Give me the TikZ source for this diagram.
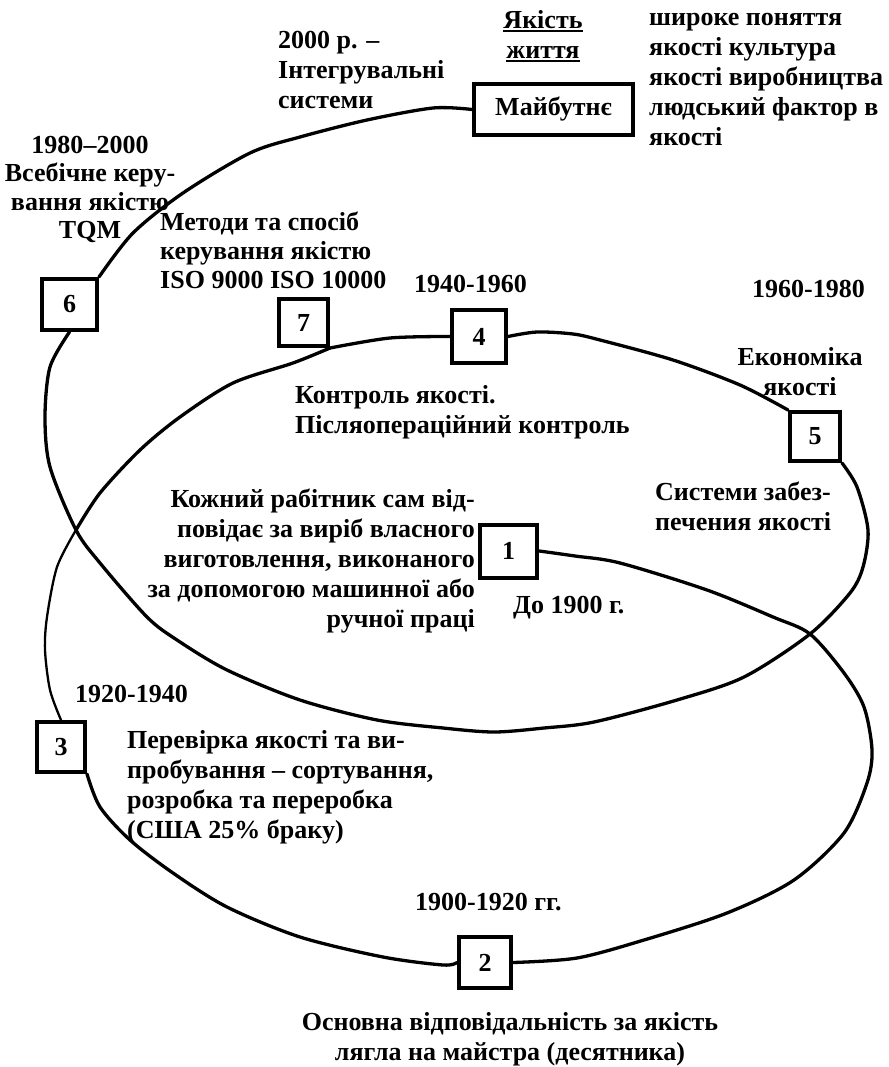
\documentclass[tikz,border=0pt]{standalone}
\usepackage{fontspec}
\setmainfont{Liberation Serif}
% a heavier underline than \underline gives
\newcommand\ulword[1]{\setbox0\hbox{#1}\rlap{\rule[-4pt]{\wd0}{2.3pt}}\box0}
% fixed height for the first line of every label
\newcommand\fl{\rule{0pt}{21pt}}
\begin{document}
\begin{tikzpicture}[x=1pt,y=-1pt,
  txt/.style={inner sep=0pt, font=\bfseries\fontsize{26}{30}\selectfont},
  period/.style={draw, line width=4pt, inner sep=0pt, fill=white,
    font=\bfseries\fontsize{26}{30}\selectfont},
  curve/.style={line width=3.3pt, line cap=round, line join=round},
  thincurve/.style={line width=2.3pt, line cap=round, line join=round}
]
\useasboundingbox (0,0) rectangle (888,1067);

% period boxes
\node[period, minimum width=57pt, minimum height=53pt] (b1) at (508.7,551) {1};
\node[period, minimum width=52pt, minimum height=51pt] (b2) at (485,962.5) {2};
\node[period, minimum width=48pt, minimum height=50pt] (b3) at (61,747) {3};
\node[period, minimum width=54pt, minimum height=53pt] (b4) at (479,336.5) {4};
\node[period, minimum width=50pt, minimum height=49pt] (b5) at (815,436.5) {5};
\node[period, minimum width=55pt, minimum height=51pt] (b6) at (69.5,304.5) {6};
\node[period, minimum width=49pt, minimum height=47pt] (b7) at (303.5,322.5) {7};
\node[period, minimum width=159pt, minimum height=51pt] (bf) at (553.5,109.5) {Майбутнє};

% crossing points of the spiral
\coordinate (xl) at (76,530);
\coordinate (xr) at (810,634);

% the spiral, from period 1 outwards
\draw[curve] plot[smooth] coordinates {(b1.east) (575,556) (620,563) (707,590)
  (773,617) (xr) (844,673) (864,707) (872,750) (867,783) (844,833) (794,880)
  (727,913) (644,940) (577,958) (b2.east)};
\draw[curve] plot[smooth] coordinates {(b2.west) (443,965) (383,957) (300,937)
  (227,907) (173,873) (130,840) (100,807) (b3.south east)};
\draw[thincurve] plot[smooth] coordinates {(b3.north) (50,690) (45,650) (47,617)
  (57,567) (xl)};
\draw[curve] plot[smooth] coordinates {(xl) (100,493) (140,450) (180,417)
  (233,383) (293,363) (b7.south east)};
\draw[curve] plot[smooth] coordinates {(b7.south east) (390,338) (b4.west)};
\draw[curve] plot[smooth] coordinates {(b4.east) (537,332) (573,334) (600,340)
  (673,360) (740,385) (b5.north west)};
\draw[curve] plot[smooth] coordinates {(b5.south east) (857,487) (868,530)
  (863,567) (850,593) (xr) (744,677) (677,700) (594,722) (544,728) (494,732)
  (443,728) (377,720) (300,700) (227,670) (177,640) (147,617) (100,563) (xl)
  (50,467) (45,417) (50,367) (b6.south)};
\draw[curve] plot[smooth] coordinates {(b6.north east) (133,233) (183,193)
  (250,153) (300,137) (367,120) (433,108) (bf.west)};

% labels
\node[txt, anchor=north west, align=left] (t2000) at (278,27)
  {\fl 2000 р. –\\Інтегрувальні\\системи};
\node[txt, anchor=north, align=center] (life) at (543,7)
  {\fl\ulword{Якість}\\\ulword{життя}};
\node[txt, anchor=north west, align=left] (wide) at (649,4)
  {\fl широке поняття\\якості культура\\якості виробництва\\людський фактор в\\якості};
\node[txt, anchor=north, align=center,
  font=\bfseries\fontsize{26}{28.5}\selectfont] (tqm) at (90,132)
  {\fl 1980–2000\\Всебічне керу-\\вання якістю\\TQM};
\node[txt, anchor=north west, align=left,
  font=\bfseries\fontsize{26}{29}\selectfont] (iso) at (160,209)
  {\fl Методи та спосіб\\керування якістю\\ISO 9000 ISO 10000};
\node[txt, anchor=north west] (y1940) at (414,271) {\fl 1940-1960};
\node[txt, anchor=north west] (y1960) at (752,276) {\fl 1960-1980};
\node[txt, anchor=north, align=center] (econ) at (800,344)
  {\fl Економіка\\якості};
\node[txt, anchor=north west, align=left] (ctrl) at (295,382)
  {\fl Контроль якості.\\Післяопераційний контроль};
\node[txt, anchor=north east, align=right] (worker) at (475,486)
  {\fl Кожний рабітник сам від-\\повідає за виріб власного\\виготовлення, виконаного\\за допомогою машинної або\\ручної праці};
\node[txt, anchor=north west, align=left] (sys) at (655,479)
  {\fl Системи забез-\\печения якості};
\node[txt, anchor=north west] (y1900) at (513,592) {\fl До 1900 г.};
\node[txt, anchor=north west] (y1920) at (75,681) {\fl 1920-1940};
\node[txt, anchor=north west, align=left] (check) at (127,727)
  {\fl Перевірка якості та ви-\\пробування – сортування,\\розробка та переробка\\(США 25\% браку)};
\node[txt, anchor=north west] (y1900b) at (415,889) {\fl 1900-1920 гг.};
\node[txt, anchor=north, align=center] (master) at (510,1009)
  {\fl Основна відповідальність за якість\\лягла на майстра (десятника)};
\end{tikzpicture}
\end{document}
